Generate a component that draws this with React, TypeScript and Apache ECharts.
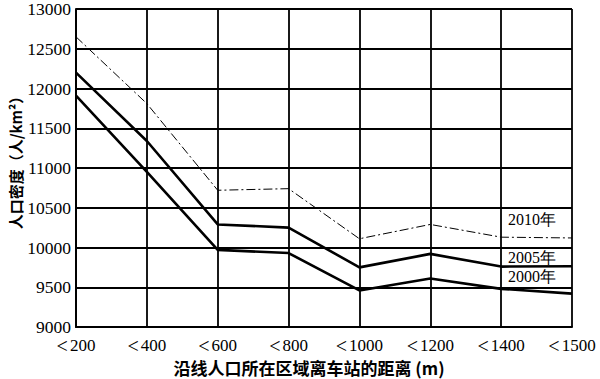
import React, { useEffect, useRef } from "react";
import * as echarts from "echarts";

const categories = ["＜200", "＜400", "＜600", "＜800", "＜1000", "＜1200", "＜1400", "＜1500"];
const series2010 = [12650, 11810, 10720, 10740, 10110, 10290, 10130, 10120];
const series2005 = [12200, 11340, 10290, 10250, 9750, 9920, 9760, 9765];
const series2000 = [11910, 10950, 9970, 9930, 9460, 9610, 9480, 9420];
const yTicks = { min: 9000, max: 13000, interval: 500 };
const seriesNames = ["2010年", "2005年", "2000年"];

const serif = "Liberation Serif";
const cjkBold = "Noto Sans CJK SC";

export default function App() {
  const ref = useRef<HTMLDivElement>(null);
  useEffect(() => {
    if (!ref.current) return;
    const chart = echarts.init(ref.current, undefined, { renderer: "svg" });
    chart.setOption({
      animation: false,
      backgroundColor: "#fff",
      textStyle: { fontFamily: serif },
      grid: { left: 76, right: 28, top: 9, bottom: 52, containLabel: false },
      xAxis: {
        type: "category",
        data: categories,
        boundaryGap: false,
        axisLine: { lineStyle: { color: "#000", width: 2 } },
        axisTick: { show: false },
        axisLabel: {
          interval: 0,
          color: "#000",
          fontSize: 17,
          fontFamily: serif,
          margin: 11,
          lineHeight: 15,
          formatter: (v: string) => `{lt|<}{n|${v.replace("＜", "")}}`,
          rich: {
            lt: { fontSize: 20, lineHeight: 15, fontFamily: serif, color: "#000", padding: [0, 2, 0, 0] },
            n: { fontSize: 17, lineHeight: 15, fontFamily: serif, color: "#000" },
          },
        },
        splitLine: { show: true, lineStyle: { color: "#000", width: 1.8 } },
      },
      yAxis: {
        type: "value",
        min: yTicks.min,
        max: yTicks.max,
        interval: yTicks.interval,
        axisLine: { show: true, lineStyle: { color: "#000", width: 2 } },
        axisTick: { show: false },
        axisLabel: {
          color: "#000",
          fontSize: 17.5,
          lineHeight: 15,
          fontFamily: serif,
          margin: 5,
          formatter: (v: number) => String(v),
        },
        splitLine: { show: true, lineStyle: { color: "#000", width: 1.8 } },
      },
      series: [
        {
          name: seriesNames[0],
          type: "line",
          data: series2010,
          symbol: "none",
          lineStyle: { color: "#000", width: 1, type: [9, 3, 2, 3] },
        },
        {
          name: seriesNames[1],
          type: "line",
          data: series2005,
          symbol: "none",
          lineStyle: { color: "#000", width: 2.6 },
        },
        {
          name: seriesNames[2],
          type: "line",
          data: series2000,
          symbol: "none",
          lineStyle: { color: "#000", width: 2.6 },
        },
      ],
      graphic: [
        {
          type: "text",
          left: 508,
          top: 211,
          style: { text: seriesNames[0], fill: "#000", fontSize: 16, fontFamily: serif },
        },
        {
          type: "text",
          left: 508,
          top: 249,
          style: { text: seriesNames[1], fill: "#000", fontSize: 16, fontFamily: serif },
        },
        {
          type: "text",
          left: 508,
          top: 268,
          style: { text: seriesNames[2], fill: "#000", fontSize: 16, fontFamily: serif },
        },
        {
          type: "text",
          x: 309,
          y: 367,
          style: {
            text: "沿线人口所在区域离车站的距离 (m)",
            fill: "#000",
            fontSize: 17,
            lineHeight: 18,
            fontWeight: "bold",
            fontFamily: cjkBold,
            align: "center",
            verticalAlign: "middle",
          },
        },
        {
          type: "text",
          x: 15,
          y: 159,
          rotation: Math.PI / 2,
          style: {
            text: "人口密度（人/km²）",
            fill: "#000",
            fontSize: 15,
            fontWeight: "bold",
            fontFamily: cjkBold,
            align: "center",
            verticalAlign: "middle",
          },
        },
      ],
    });
    return () => chart.dispose();
  }, []);
  return <div ref={ref} style={{ width: 600, height: 379, position: "absolute", left: 0, top: 0 }} />;
}
